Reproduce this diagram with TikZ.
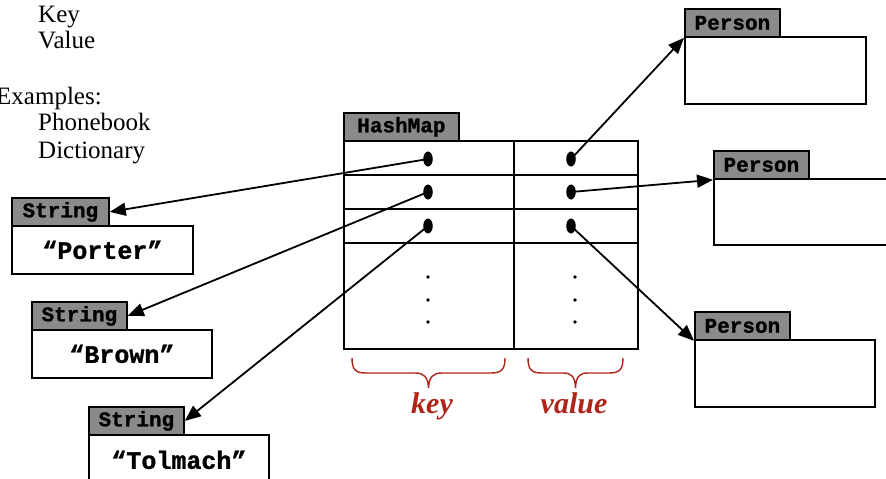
\documentclass[tikz,border=0pt]{standalone}
\usepackage{fontspec}
\setmainfont{Liberation Serif}
\newfontfamily\codefont{Liberation Mono}[BoldFeatures={FakeBold=1.2}]
\usetikzlibrary{arrows.meta,shapes.geometric}
\definecolor{tabgray}{RGB}{138,138,138}
\definecolor{bracered}{RGB}{176,36,24}

\begin{document}
\begin{tikzpicture}[x=1pt,y=-1pt,
  tab/.style={draw, line width=1.8pt, fill=tabgray, inner sep=0pt, anchor=north west,
    minimum height=28pt, font=\codefont\bfseries\fontsize{21}{21}\selectfont},
  objbox/.style={draw, line width=1.8pt, fill=white, inner sep=0pt, anchor=north west,
    font=\codefont\bfseries\fontsize{25}{25}\selectfont},
  slot/.style={ellipse, fill, inner sep=0pt, minimum width=9.5pt, minimum height=15pt},
  vdot/.style={circle, fill, inner sep=0pt, minimum size=3.8pt},
  ref/.style={line width=1.8pt, -{Triangle[length=16pt,width=13pt]}},
  bracecurve/.style={draw=bracered, line width=1.4pt},
  bracelabel/.style={text=bracered, font=\fontsize{30}{30}\selectfont\bfseries\itshape, anchor=base},
  plain/.style={anchor=base west, font=\fontsize{25}{25}\selectfont, inner sep=0pt}
]
\useasboundingbox (0,0) rectangle (886,479);

% notes in the upper left corner
\node[plain] (t1) at (38,22) {Key};
\node[plain] (t2) at (38,48) {Value};
\node[plain] (t3) at (-4,104) {Examples:};
\node[plain] (t4) at (38,130) {Phonebook};
\node[plain] (t5) at (38,158) {Dictionary};

% the hash map table
\node[objbox, minimum width=294pt, minimum height=208pt] (map) at (343,140) {};
\node[tab, minimum width=115pt] (maptab) at (343,112) {HashMap};
\draw[line width=1.8pt] (343,175) -- (637,175) (343,209) -- (637,209) (343,243) -- (637,243);
\draw[line width=1.8pt] (514,140) -- (514,348);

% key and value slots
\node[slot] (k1) at (428,159) {};
\node[slot] (k2) at (428,192) {};
\node[slot] (k3) at (428,226) {};
\node[slot] (v1) at (571,159) {};
\node[slot] (v2) at (571,192) {};
\node[slot] (v3) at (571,226) {};
\foreach \yy [count=\i] in {277,300,322} {
  \node[vdot] (kd\i) at (428,\yy) {};
  \node[vdot] (vd\i) at (575,\yy) {};
}

% String objects
\node[objbox, minimum width=181pt, minimum height=48pt] (s1) at (11,225) {“Porter”};
\node[tab, minimum width=97pt] (s1tab) at (11,197) {String};
\node[objbox, minimum width=180pt, minimum height=48pt] (s2) at (31,329) {“Brown”};
\node[tab, minimum width=95pt] (s2tab) at (31,301) {String};
\node[objbox, minimum width=180pt, minimum height=50pt] (s3) at (88,434) {“Tolmach”};
\node[tab, minimum width=95pt] (s3tab) at (88,406) {String};

% Person objects
\node[objbox, minimum width=181pt, minimum height=67pt] (p1) at (684,36) {};
\node[tab, minimum width=95pt] (p1tab) at (684,8) {Person};
\node[objbox, minimum width=185pt, minimum height=66pt] (p2) at (713,178) {};
\node[tab, minimum width=95pt] (p2tab) at (713,150) {Person};
\node[objbox, minimum width=180pt, minimum height=67pt] (p3) at (694,339) {};
\node[tab, minimum width=95pt] (p3tab) at (694,311) {Person};

% references from the slots
\draw[ref] (k1.center) -- (s1tab.east);
\draw[ref] (k2.center) -- (s2tab.east);
\draw[ref] (k3.center) -- (s3tab.east);
\draw[ref] (v1.center) -- (p1tab.south west);
\draw[ref] (v2.center) -- (p2tab.south west);
\draw[ref] (v3.center) -- (p3tab.south west);

% braces under the columns
\draw[bracecurve] (352,358) .. controls (352,370) and (356,373) .. (366,373) -- (415,373)
  .. controls (424,373) and (428,377) .. (428.5,388)
  .. controls (429,377) and (433,373) .. (442,373) -- (491,373)
  .. controls (501,373) and (505,370) .. (505,358);
\draw[bracecurve] (528,358) .. controls (528,370) and (532,373) .. (542,373) -- (563,373)
  .. controls (572,373) and (575,377) .. (575.5,388)
  .. controls (576,377) and (579,373) .. (588,373) -- (609,373)
  .. controls (619,373) and (623,370) .. (623,358);
\node[bracelabel] (keylabel) at (432,413) {key};
\node[bracelabel] (valuelabel) at (574,413) {value};
\end{tikzpicture}
\end{document}
